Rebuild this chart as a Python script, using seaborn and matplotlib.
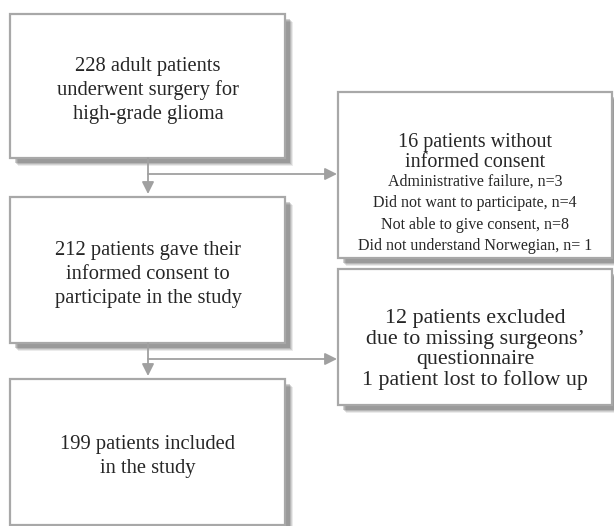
import matplotlib
matplotlib.use("Agg")
import matplotlib.pyplot as plt
import seaborn as sns
from matplotlib.patches import Rectangle

sns.set_theme(style="white")
plt.rcParams['font.family'] = ['Liberation Serif', 'DejaVu Serif']

# flow boxes (pixel layout of the diagram)
main_texts = [
    "228 adult patients\nunderwent surgery for\nhigh-grade glioma",
    "212 patients gave their\ninformed consent to\nparticipate in the study",
    "199 patients included\nin the study",
]
main_tops = [14, 197, 379]
main_bottoms = [158, 343, 525]

side_titles = [
    "16 patients without\ninformed consent",
    "12 patients excluded\ndue to missing surgeons\u2019\nquestionnaire\n1 patient lost to follow up",
]
side_details = [
    "Administrative failure, n=3\nDid not want to participate, n=4\n"
    "Not able to give consent, n=8\nDid not understand Norwegian, n= 1",
    "",
]
side_tops = [92, 269]
side_bottoms = [258, 405]

edge = "#a8a8a8"
arrow_c = "#a0a0a0"

fig, ax = plt.subplots(figsize=(6.14, 5.26), dpi=100)
fig.subplots_adjust(0, 0, 1, 1)
ax.set_xlim(0, 614)
ax.set_ylim(526, 0)
ax.axis("off")


def box(x0, y0, x1, y1):
    # soft drop shadow
    for i, a in enumerate([0.10, 0.14, 0.18, 0.24]):
        off = 7 - i
        ax.add_patch(Rectangle((x0 + off + 1, y0 + off + 1), x1 - x0, y1 - y0,
                               facecolor="#404040", edgecolor="none", alpha=a, zorder=1))
    ax.add_patch(Rectangle((x0, y0), x1 - x0, y1 - y0, facecolor="white",
                           edgecolor=edge, lw=1.6, zorder=2))


def lines(x, yc, text, step, size):
    # evenly spaced lines, centred on yc
    parts = text.split("\n")
    y = yc - step * (len(parts) - 1) / 2
    for p in parts:
        ax.text(x, y, p, ha="center", va="baseline", fontsize=size, zorder=3)
        y += step


for t, y0, y1 in zip(main_texts, main_tops, main_bottoms):
    box(10, y0, 285, y1)
    lines(148, (y0 + y1) / 2 + 9, t, 23.5, 14.8)

for i, (t, d, y0, y1) in enumerate(zip(side_titles, side_details, side_tops, side_bottoms)):
    box(338, y0, 612, y1)
    if d:
        lines(475, 157, t, 20.5, 14.5)
        lines(475, 218, d, 21.5, 11.5)
    else:
        lines(475, 354, t, 20.5, 15.8)

# connectors
for k in range(2):
    ya = main_bottoms[k]
    yb = main_tops[k + 1]
    ybranch = ya + 16
    ax.annotate("", xy=(148, yb - 3), xytext=(148, ya),
                arrowprops=dict(arrowstyle="-|>,head_length=0.6,head_width=0.3",
                                color=arrow_c, lw=1.3, shrinkA=0, shrinkB=0), zorder=3)
    ax.annotate("", xy=(337, ybranch), xytext=(148, ybranch),
                arrowprops=dict(arrowstyle="-|>,head_length=0.6,head_width=0.3",
                                color=arrow_c, lw=1.3, shrinkA=0, shrinkB=0), zorder=3)

fig.savefig("out.png", dpi=100)
